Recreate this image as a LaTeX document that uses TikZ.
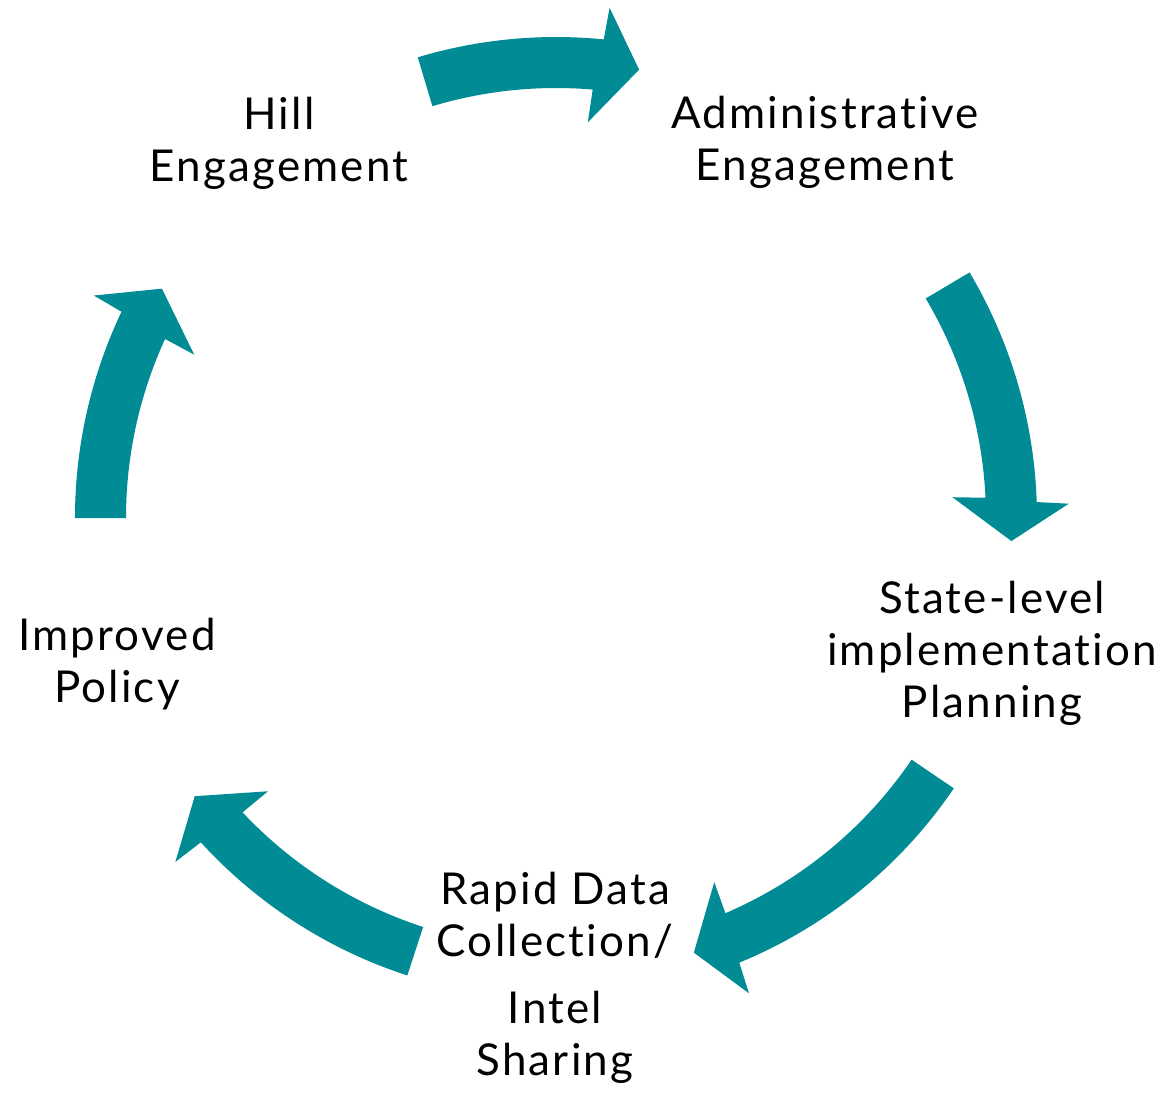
\documentclass[tikz,border=0pt]{standalone}
\usepackage{fontspec}
\setmainfont{Lato}[Ligatures=NoCommon, LetterSpace=5]
\definecolor{cycleteal}{HTML}{008B95}

% curved block arrow on the ring: #1 tail angle, #2 angle where the head starts
\newcommand{\cyclearrow}[2]{%
  \fill[cycleteal] ({#1}:481) arc[start angle={#1}, end angle={#2-0.4}, radius=481]
    -- ({#2-0.7}:513) -- ({#2-5.2}:456) -- ({#2+0.7}:397)
    -- ({#2+0.4}:430) arc[start angle={#2+0.4}, end angle={#1}, radius=430] -- cycle;}

\begin{document}
\begin{tikzpicture}[x=0.02cm, y=0.02cm, every node/.style={font=\fontsize{25}{29.5}\selectfont, align=center, inner sep=0pt}]
    \useasboundingbox (-556,-578) rectangle (611,518);
    \coordinate (hub) at (0,0);

    \node (hill) at (-277,375) {Hill\\Engagement};
    \node (admin) at (269,376) {Administrative\\Engagement};
    \node (state) at (436,-135) {State-level\\implementation\\Planning};
    \node (rapid) at (-1,-460) {Rapid Data\\Collection/\\[9pt]Intel\\Sharing};
    \node (policy) at (-439,-146) {Improved\\Policy};

    % hill -> admin -> state -> rapid -> policy -> hill
    \cyclearrow{106.7}{84.7}
    \cyclearrow{30.7}{2.3}
    \cyclearrow{-34.2}{-67.2}
    \cyclearrow{-108.0}{-137.2}
    \cyclearrow{180}{155}
\end{tikzpicture}
\end{document}
